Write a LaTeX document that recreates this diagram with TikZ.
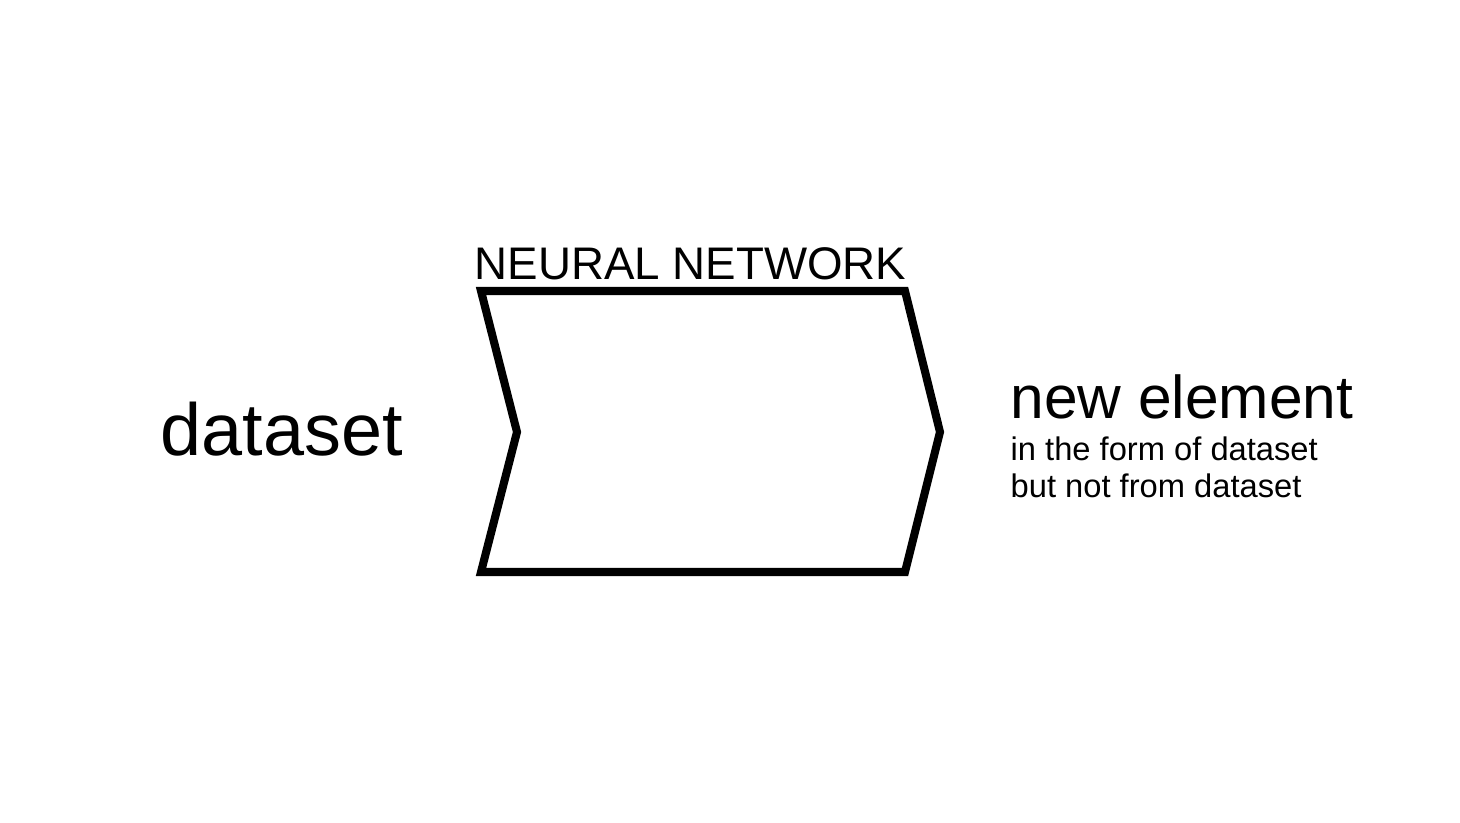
\documentclass[tikz,border=0pt]{standalone}
\usepackage{fontspec}
\setmainfont{Liberation Sans}

\begin{document}
\begin{tikzpicture}
    \definecolor{borderColour}{HTML}{000000}

    \tikzset{label text/.style={anchor=base west, inner sep=0pt, text=borderColour}}

    % Fix the page size
    \useasboundingbox (0,0) rectangle (14.6,8.22);

    % Chevron for the network: TL, TR, tip, BR, BL, notch
    \coordinate (TL) at (4.81,5.31);
    \coordinate (TR) at (9.05,5.31);
    \coordinate (T) at (9.40,3.90);
    \coordinate (BR) at (9.05,2.50);
    \coordinate (BL) at (4.81,2.50);
    \coordinate (N) at (5.17,3.90);
    \draw[draw=borderColour, line width=2.3pt, line join=miter] (TL) -- (TR) -- (T) -- (BR) -- (BL) -- (N) -- cycle;

    % Title above the chevron
    \node[label text, font=\fontsize{13}{15}\selectfont] (title) at (4.74,5.42) {NEURAL NETWORK};

    % Input on the left
    \node[label text, font=\fontsize{21}{25}\selectfont] (data) at (1.60,3.67) {dataset};

    % Output on the right
    \node[label text, font=\fontsize{17.2}{20}\selectfont] (newel) at (10.10,4.04) {new element};
    \node[label text, font=\fontsize{9.3}{11}\selectfont] (subA) at (10.10,3.62) {in the form of dataset};
    \node[label text, font=\fontsize{9.3}{11}\selectfont] (subB) at (10.10,3.25) {but not from dataset};

\end{tikzpicture}
\end{document}
